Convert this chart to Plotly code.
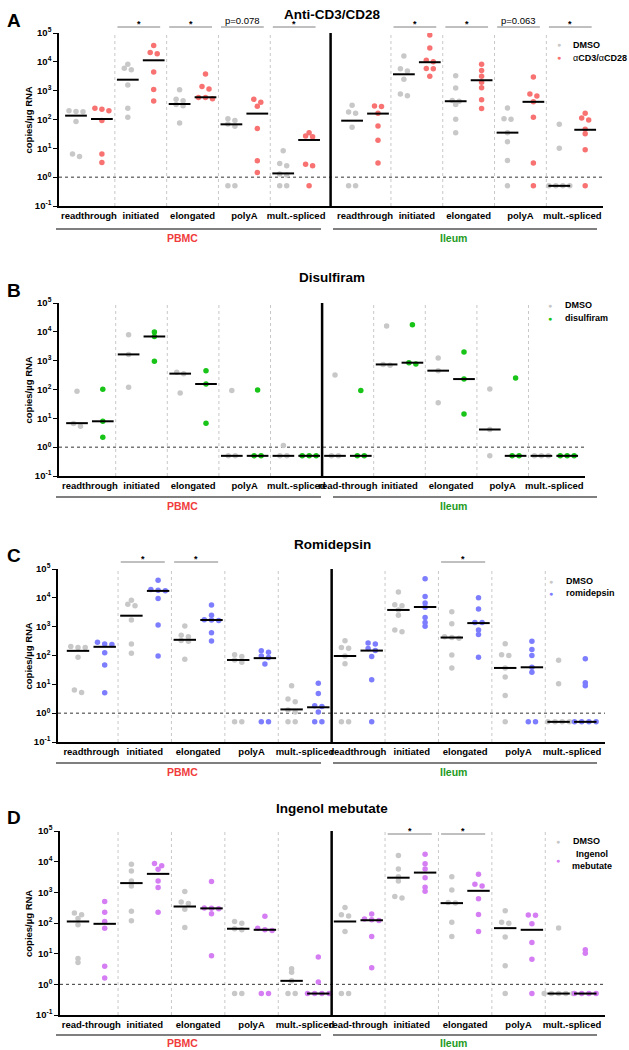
import numpy as np
import plotly.graph_objects as go

W, H = 629, 1050
FONT = 'Liberation Sans, Arial, sans-serif'
GREY = '#c8c8c8'

# x categories, PBMC first then Ileum
a_labels = ['readthrough', 'initiated', 'elongated', 'polyA', 'mult.-spliced'] * 2
b_labels = ['readthrough', 'initiated', 'elongated', 'polyA', 'mult.-spliced',
            'read-through', 'initiated', 'elongated', 'polyA', 'mult.-spliced']
c_labels = ['readthrough', 'initiated', 'elongated', 'polyA', 'mult.-spliced'] * 2
d_labels = ['read-through', 'initiated', 'elongated', 'polyA', 'mult.-spliced'] * 2
tissues = ['PBMC', 'Ileum']
tissue_colors = ['#f03c3c', '#1e9a1e']

titles = ['Anti-CD3/CD28', 'Disulfiram', 'Romidepsin', 'Ingenol mebutate']
letters = ['A', 'B', 'C', 'D']
treatments = ['\u03b1<b>CD3/</b>\u03b1<b>CD28</b>', '<b>disulfiram</b>',
              '<b>romidepsin</b>', '<b>Ingenol<br>mebutate</b>']
treat_colors = ['#f87272', '#17c417', '#7d7dff', '#d57ef4']

# copies/ug RNA, undetectable plotted at 0.5
a_dmso = [
    [190, 200, 187, 85, 6.4, 5.2],
    [8300, 6000, 5300, 1580, 245, 120],
    [1080, 500, 450, 330, 300, 75],
    [107, 92, 70, 58, 0.5, 0.5],
    [8.3, 3.0, 2.5, 1.3, 1.2, 0.5, 0.5],
    [310, 183, 165, 54, 0.5, 0.5],
    [16000, 5800, 4800, 2500, 760, 660],
    [3300, 1230, 460, 430, 330, 102, 35],
    [250, 107, 102, 35, 17, 3.8, 0.5],
    [68, 10, 0.5, 0.5, 0.5, 0.5],
]
a_dmso_med = [136, 2400, 345, 68, 1.35, 91, 3700, 430, 35, 0.5]
a_trt = [
    [245, 226, 200, 92, 6.3, 3.2],
    [37000, 21000, 19000, 4400, 1100, 440],
    [3800, 1400, 1150, 580, 580, 520],
    [500, 400, 290, 49, 3.7, 1.45],
    [35, 27, 25, 2.8, 2.5, 0.5],
    [295, 280, 165, 59, 19, 3.1],
    [85000, 30000, 11300, 10000, 5900, 5700, 3150],
    [8300, 5000, 3150, 1950, 1250, 480, 240],
    [2950, 760, 650, 410, 120, 3.1, 0.5],
    [165, 112, 96, 46, 32, 8.9, 0.5],
]
a_trt_med = [104, 11300, 590, 160, 19.5, 160, 9700, 2300, 410, 44]
a_sig = [None, '*', '*', 'p=0.078', '*', None, '*', '*', 'p=0.063', '*']

b_dmso = [
    [87, 6.6, 5.3],
    [8000, 1650, 120],
    [400, 350, 76],
    [92, 0.5, 0.5],
    [1.15, 0.5, 0.5],
    [316, 0.5, 0.5],
    [16000, 740, 690],
    [1230, 450, 35],
    [105, 4.1, 0.5],
    [0.5, 0.5, 0.5],
]
b_dmso_med = [6.8, 1650, 355, 0.5, 0.5, 0.5, 740, 450, 4.1, 0.5]
b_trt = [
    [102, 7.9, 2.2],
    [9800, 6900, 960],
    [450, 155, 6.8],
    [96, 0.5, 0.5],
    [0.5, 0.5, 0.5],
    [93, 0.5, 0.5],
    [17700, 850, 760],
    [2000, 230, 14],
    [250, 0.5, 0.5],
    [0.5, 0.5, 0.5],
]
b_trt_med = [7.9, 6900, 155, 0.5, 0.5, 0.5, 850, 230, 0.5, 0.5]
b_sig = [None] * 10

c_dmso = [
    [205, 190, 190, 87, 6.4, 5.2],
    [8300, 6000, 5300, 1700, 250, 120],
    [1050, 500, 450, 330, 310, 74],
    [107, 92, 70, 58, 0.5, 0.5],
    [8.9, 3.1, 2.5, 1.3, 1.1, 0.5, 0.5],
    [325, 190, 178, 96, 52, 0.5, 0.5],
    [16000, 5800, 5300, 3800, 2500, 760, 670],
    [3300, 1260, 450, 420, 400, 105, 37],
    [255, 107, 100, 37, 18, 4.1, 0.5],
    [69, 10.4, 0.5, 0.5, 0.5, 0.5],
]
c_dmso_med = [145, 2400, 350, 70, 1.35, 96, 3800, 420, 37, 0.5]
c_trt = [
    [290, 250, 240, 124, 47, 5.1],
    [41000, 19500, 18500, 17700, 9500, 1140, 96],
    [5600, 2500, 1750, 1700, 1650, 620, 316],
    [145, 130, 96, 85, 51, 0.5, 0.5],
    [11, 4.8, 1.8, 1.7, 1.1, 0.5, 0.5],
    [270, 250, 175, 148, 92, 14.5, 0.5],
    [46000, 11200, 6600, 4700, 2100, 1400, 1030],
    [10000, 4100, 1400, 1400, 760, 540, 87],
    [315, 162, 100, 39, 26, 0.5, 0.5],
    [77, 11.4, 8.9, 0.5, 0.5, 0.5, 0.5],
]
c_trt_med = [200, 17400, 1700, 81, 1.6, 148, 4800, 1330, 39, 0.5]
c_sig = [None, '*', '*', None, None, None, None, '*', None, None]

d_dmso = [
    [210, 185, 140, 87, 6.9, 5.2],
    [8300, 5000, 2350, 1600, 240, 118],
    [1070, 480, 430, 280, 72],
    [112, 98, 65, 60, 0.5, 0.5],
    [3.2, 2.5, 1.3, 0.5, 0.5],
    [320, 185, 170, 53, 0.5, 0.5],
    [15800, 5800, 3200, 2350, 730, 650],
    [3240, 1200, 470, 445, 105, 36],
    [250, 105, 98, 35, 4.0, 0.5],
    [69, 0.5, 0.5, 0.5, 0.5, 0.5],
]
d_dmso_med = [112, 2000, 345, 65, 1.3, 112, 3000, 445, 68, 0.5]
d_trt = [
    [500, 225, 112, 68, 3.9, 1.6],
    [8700, 7400, 5700, 2350, 1440, 225],
    [2240, 310, 300, 290, 200, 8.5],
    [166, 68, 60, 57, 0.5, 0.5],
    [7.8, 1.2, 0.5, 0.5, 0.5, 0.5],
    [195, 134, 127, 120, 36, 3.5],
    [17500, 8600, 5800, 3000, 1470, 1090],
    [3900, 1830, 1620, 615, 190, 53],
    [182, 178, 94, 23, 6.6, 0.5],
    [13.5, 10.3, 0.5, 0.5, 0.5, 0.5],
]
d_trt_med = [94, 4000, 300, 60, 0.5, 123, 4400, 1120, 60, 0.5]
d_sig = [None, None, None, None, None, None, '*', '*', None, None]

# page geometry per panel, in pixels
geom = [
    dict(top=33, bot=206, left=59, right=603, g0=76, step=25.9, gap=0.66,
         title=15, letter=20, gline=229, gtext=238, sig=27,
         leg=(559, 45, 58, 571)),
    dict(top=303, bot=476, left=59, right=585, g0=77, step=25.8, gap=0,
         title=277, letter=290, gline=497, gtext=506, sig=None,
         leg=(550, 305, 318, 563)),
    dict(top=569, bot=742, left=58, right=605, g0=78, step=26.7, gap=0,
         title=544, letter=555, gline=763, gtext=772, sig=562,
         leg=(551, 581, 593, 564)),
    dict(top=831, bot=1015, left=60, right=605, g0=78, step=26.7, gap=0,
         title=808, letter=817, gline=1035, gtext=1043, sig=834,
         leg=(558, 841, 860, 571)),
]
group_spans = [(56, 321), (333, 597)]
group_text_x = [182, 453]

panels = [
    (a_labels, a_dmso, a_dmso_med, a_trt, a_trt_med, a_sig),
    (b_labels, b_dmso, b_dmso_med, b_trt, b_trt_med, b_sig),
    (c_labels, c_dmso, c_dmso_med, c_trt, c_trt_med, c_sig),
    (d_labels, d_dmso, d_dmso_med, d_trt, d_trt_med, d_sig),
]


def swarm(values, step=0.27, thr=0.1):
    # spread points that would overlap into a row
    v = np.asarray(values, float)
    order = np.argsort(-v, kind='stable')
    lv = np.log10(v[order])
    clusters = [[0]]
    for i in range(1, len(lv)):
        if lv[clusters[-1][-1]] - lv[i] < thr:
            clusters[-1].append(i)
        else:
            clusters.append([i])
    offs = np.zeros(len(v))
    for cl in clusters:
        k = len(cl)
        for j, idx in enumerate(cl):
            offs[order[idx]] = (j - (k - 1) / 2) * step
    return offs


def py(px):
    return 1 - px / H


def bold(s):
    return '<b>' + s + '</b>'


def note(x, y, text, size, color='black', xanchor='center', **kw):
    return dict(x=x / W, y=py(y), xref='paper', yref='paper', text=text,
                showarrow=False, xanchor=xanchor, yanchor='middle',
                font=dict(family=FONT, size=size, color=color), **kw)


fig = go.Figure()
shapes = []
annotations = []
layout = {}

TICK_VALS = [0.1, 1, 10, 100, 1000, 10000, 100000]
TICK_TEXT = [bold('10<sup>%d</sup>' % e) for e in range(-1, 6)]

for p, (labels, dmso, dmso_med, trt, trt_med, sig) in enumerate(panels):
    g = geom[p]
    sfx = '' if p == 0 else str(p + 1)
    xa, ya = 'x' + sfx, 'y' + sfx

    base = [2 * i + (g['gap'] if i >= 5 else 0) for i in range(10)]
    centers = [b + 0.5 for b in base]
    xr = [(g['left'] - g['g0']) / g['step'], (g['right'] - g['g0']) / g['step']]

    # points
    for grp, (vals, col) in enumerate([(dmso, GREY), (trt, treat_colors[p])]):
        xs, ys = [], []
        for i in range(10):
            offs = swarm(vals[i])
            xs += list(base[i] + grp + offs)
            ys += list(vals[i])
        fig.add_trace(go.Scatter(
            x=xs, y=ys, mode='markers', xaxis=xa, yaxis=ya,
            marker=dict(color=col, size=5.5, line=dict(width=0)),
            showlegend=False, hoverinfo='y',
        ))

    # medians
    mx, my = [], []
    for i in range(10):
        for grp, med in enumerate([dmso_med[i], trt_med[i]]):
            x0 = base[i] + grp
            mx += [x0 - 0.42, x0 + 0.42, None]
            my += [med, med, None]
    fig.add_trace(go.Scatter(
        x=mx, y=my, mode='lines', xaxis=xa, yaxis=ya,
        line=dict(color='black', width=2), showlegend=False, hoverinfo='skip',
    ))

    # separators
    for i in [0, 1, 2, 3, 5, 6, 7, 8]:
        xg = base[i] + 1.5
        shapes.append(dict(type='line', xref=xa, yref=ya + ' domain', x0=xg, x1=xg,
                           y0=0, y1=1, layer='below',
                           line=dict(color='#c8c8c8', width=1, dash='dot')))
    xmid = 9.5 + g['gap'] / 2
    shapes.append(dict(type='line', xref=xa, yref=ya + ' domain', x0=xmid, x1=xmid,
                       y0=0, y1=1, line=dict(color='black', width=2.5)))
    # limit of detection at 1 copy
    yd = (0 - (-1)) / 6
    shapes.append(dict(type='line', xref=xa + ' domain', yref=ya + ' domain',
                       x0=0, x1=1, y0=yd, y1=yd, layer='below',
                       line=dict(color='#333333', width=1, dash='dot')))

    # significance
    for i in range(10):
        if sig[i] is None:
            continue
        yb = py(g['sig'])
        shapes.append(dict(type='line', xref=xa, yref='paper',
                           x0=centers[i] - 0.9, x1=centers[i] + 0.75, y0=yb, y1=yb,
                           line=dict(color='#808080', width=1)))
        is_star = sig[i] == '*'
        annotations.append(dict(
            x=centers[i] - 0.07, y=yb - (4 if is_star else 1.5) / H,
            xref=xa, yref='paper',
            text=bold(sig[i]) if is_star else sig[i], showarrow=False,
            xanchor='center', yanchor='bottom',
            font=dict(family=FONT, size=9 if is_star else 9.5, color='black')))

    # tissue groups
    for t in range(2):
        x0, x1 = group_spans[t]
        shapes.append(dict(type='line', xref='paper', yref='paper',
                           x0=x0 / W, x1=x1 / W, y0=py(g['gline']), y1=py(g['gline']),
                           line=dict(color='black', width=1.2)))
        annotations.append(note(group_text_x[t], g['gtext'], bold(tissues[t]), 10.5,
                                tissue_colors[t]))

    annotations.append(note(332, g['title'], bold(titles[p]), 13.5))
    annotations.append(note(14, g['letter'], bold(letters[p]), 19))
    annotations.append(note(28, (g['top'] + g['bot']) / 2, bold('copies/\u00b5g RNA'),
                            9.5, textangle=-90))

    # legend
    dot_x, y1, y2, text_x = g['leg']
    annotations.append(note(dot_x, y1, '\u25cf', 7, GREY))
    annotations.append(note(dot_x, y2, '\u25cf', 7, treat_colors[p]))
    annotations.append(note(text_x, y1, bold('DMSO'), 9, xanchor='left'))
    if '<br>' in treatments[p]:
        annotations.append(note(592, y2, treatments[p], 9, align='center'))
    else:
        annotations.append(note(text_x, y2, treatments[p], 9, xanchor='left'))

    layout['xaxis' + sfx] = dict(
        domain=[g['left'] / W, g['right'] / W], range=xr, anchor=ya,
        tickvals=centers, ticktext=[bold(s) for s in labels], ticks='', tickangle=0,
        showline=True, linecolor='black', linewidth=1.5, showgrid=False,
        zeroline=False, tickfont=dict(family=FONT, size=9.5, color='black'),
    )
    layout['yaxis' + sfx] = dict(
        domain=[py(g['bot']), py(g['top'])], type='log', range=[-1, 5], anchor=xa,
        tickvals=TICK_VALS, ticktext=TICK_TEXT, ticks='outside', ticklen=4,
        tickwidth=1.2, tickcolor='black', showline=True, linecolor='black',
        linewidth=1.5, showgrid=False, zeroline=False,
        tickfont=dict(family=FONT, size=9.5, color='black'),
    )

fig.update_layout(
    width=W, height=H, autosize=False, showlegend=False,
    margin=dict(l=0, r=0, t=0, b=0, autoexpand=False),
    plot_bgcolor='white', paper_bgcolor='white',
    shapes=shapes, annotations=annotations,
    **layout,
)

# page margin would push the 629x1050 figure past the window
fig.write_html('out.html', config={'displayModeBar': False},
               post_script="document.body.style.margin='0';")
